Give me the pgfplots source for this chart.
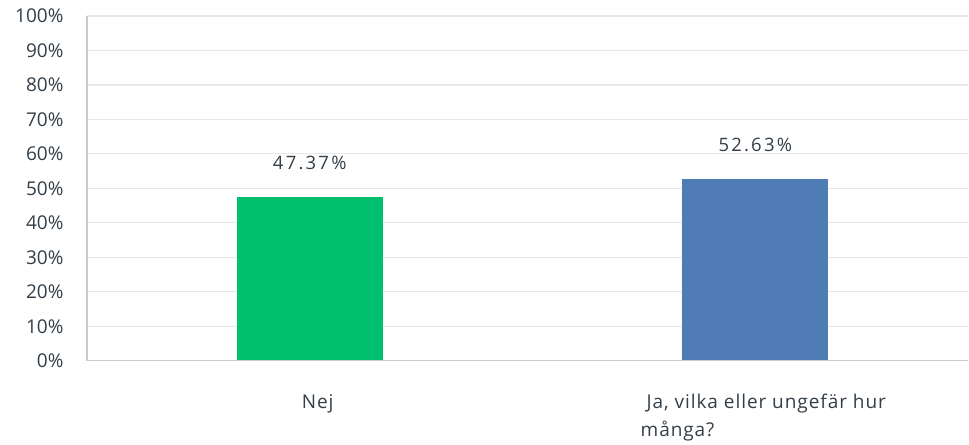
\documentclass[border=0pt]{standalone}
\usepackage{fontspec}
\setmainfont{Open Sans}
\newfontfamily\datafont[LetterSpace=12]{Open Sans}
\newfontfamily\catfont[LetterSpace=5]{Open Sans}
\usepackage{pgfplots}
\pgfplotsset{compat=1.18}
\definecolor{smgreen}{HTML}{00BF6F}
\definecolor{smblue}{HTML}{507CB6}
\definecolor{txt}{HTML}{333E48}
\definecolor{gridc}{HTML}{E8E8E8}
\definecolor{axc}{HTML}{CCCCCC}
\begin{document}
\begin{tikzpicture}
\begin{axis}[
  at={(0pt,0pt)}, anchor=south west,
  scale only axis,
  width=882pt, height=345pt,
  xmin=-0.5, xmax=1.478,
  ymin=0, ymax=100,
  ybar, bar width=146pt, bar shift=0pt,
  axis line style={draw=none},
  ytick={0,10,...,100},
  yticklabel={\pgfmathprintnumber{\tick}\%},
  /pgf/number format/assume math mode=true,
  major tick length=0pt,
  ymajorgrids, grid style={gridc, line width=1.2pt},
  yticklabel style={font=\fontsize{19}{20}\selectfont, text=txt, xshift=-20pt},
  xtick={0,1},
  xticklabels={Nej, {\ Ja, vilka eller ungefär hur\\många?}},
  xticklabel style={font=\catfont\fontsize{19}{28}\selectfont, text=txt, align=left, anchor=north, yshift=-30pt, xshift=8pt},
  nodes near coords={\pgfmathprintnumber[fixed,precision=2,fixed zerofill]{\pgfplotspointmeta}\%},
  nodes near coords style={font=\datafont\fontsize{18.5}{20}\selectfont, text=txt, yshift=24pt},
  clip=false,
]
\addplot[fill=smgreen, draw=none] coordinates {(0,47.37)};
\addplot[fill=smblue, draw=none] coordinates {(1,52.63)};
\draw[axc, line width=1.5pt] (axis cs:-0.5,0) -- (axis cs:1.478,0);
\draw[axc, line width=1.2pt] (axis cs:-0.5,0) -- (axis cs:-0.5,100);
\end{axis}
\path[use as bounding box] (-87pt,-79pt) rectangle (882pt,361pt);
\end{tikzpicture}
\end{document}
